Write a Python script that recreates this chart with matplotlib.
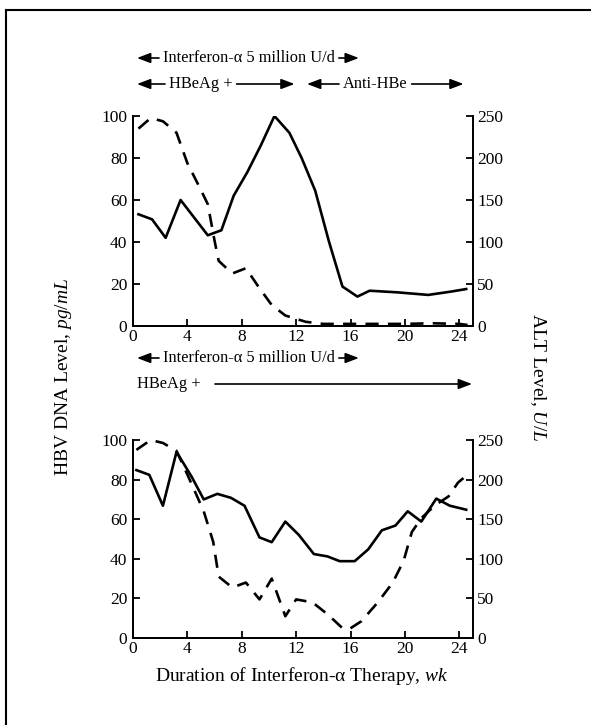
import matplotlib
matplotlib.use("Agg")
import matplotlib.pyplot as plt
from matplotlib.patches import FancyArrowPatch

plt.rcParams['font.family'] = ['Liberation Serif', 'DejaVu Serif']
plt.rcParams['mathtext.fontset'] = 'custom'
plt.rcParams['mathtext.rm'] = 'Liberation Serif'
plt.rcParams['mathtext.it'] = 'Liberation Serif:italic'

# ---------------- data ----------------
xticks = [0, 4, 8, 12, 16, 20, 24]
dna_ticks = [0, 20, 40, 60, 80, 100]
alt_ticks = [0, 50, 100, 150, 200, 250]

# Top panel (HBeAg seroconversion)
top_alt_wk = [0.4, 1.4, 2.4, 3.5, 4.5, 5.5, 6.5, 7.4, 8.4, 9.4, 10.4, 11.5, 12.4,
              13.4, 14.4, 15.4, 16.5, 17.4, 19.5, 21.7, 23.4, 24.5]
top_alt = [133, 127, 105, 150, 129, 108, 114, 155, 183, 215, 250, 230, 200,
           161, 101, 47, 35, 42, 40, 37, 41, 44]
top_dna_wk = [0.4, 1.3, 2.2, 3.2, 4.0, 4.9, 5.5, 6.0, 6.3, 7.3, 8.3, 9.3, 10.2,
              11.2, 12.7, 14, 16, 18, 20, 22, 24, 24.6]
top_dna = [94, 99, 97.5, 92, 77.5, 66, 58, 40.5, 31, 25, 27.5, 18, 10,
           5, 2, 1, 1, 1, 1, 1.3, 1, 0.5]

# Bottom panel (persistent HBeAg)
bot_alt_wk = [0.25, 1.2, 2.2, 3.2, 4.3, 5.2, 6.2, 7.2, 8.2, 9.3, 10.2, 11.2, 12.2,
              13.3, 14.3, 15.2, 16.3, 17.3, 18.3, 19.3, 20.2, 21.2, 22.3, 23.3, 24.5]
bot_alt = [212, 206, 167, 235, 204, 175, 182, 177, 167, 127, 121, 147, 130,
           106, 103, 97, 97, 112, 136, 142, 160, 147, 176, 167, 162]
bot_dna_wk = [0.25, 1.3, 2.2, 3.2, 4.1, 5.2, 5.9, 6.3, 7.3, 8.3, 9.3, 10.2, 11.2,
              12.0, 13.2, 14.3, 15.4, 15.9, 16.8, 18.0, 19.1, 19.9, 20.5, 21.2,
              22.2, 23.2, 23.9, 24.6]
bot_dna = [95, 100, 98.5, 94.5, 81, 64, 48.5, 31, 25.5, 28, 19.5, 30, 11,
           19.5, 18, 12, 5, 4.5, 8.5, 18, 28, 39, 53.5, 60.5,
           67, 71.5, 78.5, 82.5]

# ---------------- layout ----------------
W, H = 591, 725
fig = plt.figure(figsize=(W / 100, H / 100), dpi=100)

def ax_rect(left, top, right, bottom):
    return [left / W, 1 - bottom / H, (right - left) / W, (bottom - top) / H]

ax_top = fig.add_axes(ax_rect(133, 116, 473, 326))
ax_bot = fig.add_axes(ax_rect(133, 440, 473, 638))

fs = 12.5
afs = 11.8
for ax, wk_a, alt, wk_d, dna in [(ax_top, top_alt_wk, top_alt, top_dna_wk, top_dna),
                                 (ax_bot, bot_alt_wk, bot_alt, bot_dna_wk, bot_dna)]:
    ax2 = ax.twinx()
    ax.plot(wk_d, dna, color='black', lw=1.9, ls=(0, (5, 3.5)))
    ax2.plot(wk_a, alt, color='black', lw=1.9)
    ax.set_xlim(0, 25)
    ax.set_ylim(0, 100)
    ax2.set_ylim(0, 250)
    ax.set_xticks(xticks)
    ax.set_yticks(dna_ticks)
    ax2.set_yticks(alt_ticks)
    for a in (ax, ax2):
        a.spines['top'].set_visible(False)
        for s in ('left', 'right', 'bottom'):
            a.spines[s].set_linewidth(1.3)
        a.tick_params(direction='in', length=5, width=1.3, labelsize=fs, pad=3)
    ax.tick_params(axis='y', pad=4)
    ax.tick_params(axis='x', pad=2)

# ---------------- annotations ----------------
renderer = fig.canvas.get_renderer()

def px_to_fig(px, py):
    return px / W, 1 - py / H

def arrow(x0, x1, y):
    a = FancyArrowPatch(px_to_fig(x0, y), px_to_fig(x1, y), transform=fig.transFigure,
                        arrowstyle='-|>,head_length=0.45,head_width=0.17',
                        color='black', lw=1.2, mutation_scale=18,
                        shrinkA=0, shrinkB=0)
    fig.add_artist(a)

def label_with_arrows(text, x_start, y, left_len, right_len, gap=4):
    t = fig.text(*px_to_fig(x_start + left_len + gap, y), text, fontsize=afs,
                 ha='left', va='center')
    bb = t.get_window_extent(renderer)
    x_text_end = bb.x1
    if left_len > 0:
        arrow(x_start + left_len, x_start, y)
    if right_len > 0:
        arrow(x_text_end + gap, x_text_end + gap + right_len, y)
    return x_text_end + gap + right_len

label_with_arrows('Interferon-α 5 million U/d', 137, 58, 22, 20)
label_with_arrows('HBeAg +', 137, 84, 28, 58)
label_with_arrows('Anti-HBe', 307, 84, 32, 52)
label_with_arrows('Interferon-α 5 million U/d', 137, 358, 22, 20)
fig.text(*px_to_fig(137, 384), 'HBeAg +', fontsize=afs, ha='left', va='center')
arrow(215, 472, 384)

# axis labels
fig.text(*px_to_fig(63, 377), r'HBV DNA Level, $\it{pg/mL}$', fontsize=14,
         rotation=90, ha='center', va='center')
fig.text(*px_to_fig(538, 377), r'ALT Level, $\it{U/L}$', fontsize=14,
         rotation=270, ha='center', va='center')
fig.text(*px_to_fig(302, 676), r'Duration of Interferon-α Therapy, $\it{wk}$',
         fontsize=14, ha='center', va='center')

# frame
fig.add_artist(plt.Line2D([6 / W, 6 / W], [0, 1 - 10 / H], transform=fig.transFigure,
                          color='black', lw=1.5))
fig.add_artist(plt.Line2D([6 / W, 1], [1 - 10 / H, 1 - 10 / H], transform=fig.transFigure,
                          color='black', lw=1.5))

fig.savefig('out.png', dpi=100)
